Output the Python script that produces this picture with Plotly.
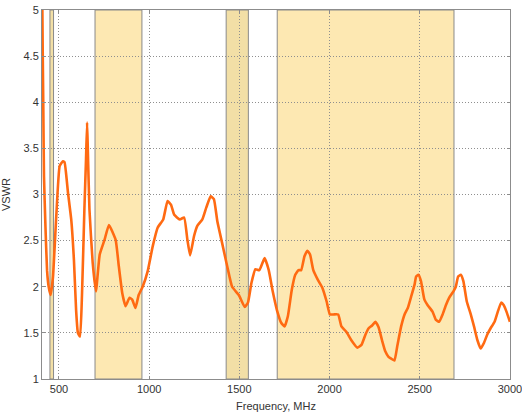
import plotly.graph_objects as go

freq_mhz = [408, 410, 413, 417, 425, 434, 443, 454, 467, 485, 504, 522, 531, 550, 568, 583, 595,
            605, 617, 628, 641, 650, 656, 660, 669, 687, 705, 726, 753, 777, 814, 832, 851, 869,
            891, 906, 924, 942, 964, 992, 1020, 1047, 1078, 1102, 1121, 1139, 1170, 1194, 1212,
            1227, 1249, 1267, 1295, 1317, 1341, 1359, 1378, 1405, 1433, 1460, 1497, 1530, 1548,
            1567, 1589, 1611, 1640, 1663, 1685, 1708, 1732, 1751, 1769, 1791, 1810, 1828, 1843,
            1861, 1877, 1892, 1910, 1934, 1960, 1984, 2002, 2021, 2048, 2066, 2094, 2121, 2154,
            2177, 2199, 2217, 2236, 2254, 2272, 2291, 2309, 2327, 2342, 2360, 2375, 2397, 2416,
            2434, 2452, 2471, 2480, 2493, 2507, 2526, 2544, 2571, 2590, 2608, 2627, 2645, 2663,
            2687, 2700, 2713, 2728, 2742, 2761, 2783, 2801, 2820, 2838, 2856, 2874, 2893, 2915,
            2933, 2952, 2966, 2981, 3000]
vswr = [5.0, 4.55, 4.0, 3.2, 2.66, 2.18, 2.0, 1.91, 2.11, 2.76, 3.31, 3.36, 3.35, 3.02, 2.73, 2.29,
        1.75, 1.5, 1.46, 1.93, 2.84, 3.38, 3.78, 3.49, 2.84, 2.26, 1.95, 2.35, 2.51, 2.67, 2.51,
        2.22, 1.93, 1.79, 1.88, 1.86, 1.77, 1.91, 2.0, 2.17, 2.44, 2.64, 2.73, 2.93, 2.89, 2.78,
        2.73, 2.75, 2.51, 2.34, 2.55, 2.66, 2.73, 2.86, 2.98, 2.95, 2.71, 2.47, 2.22, 2.0, 1.91,
        1.78, 1.83, 2.04, 2.19, 2.18, 2.31, 2.18, 1.95, 1.75, 1.61, 1.57, 1.68, 1.97, 2.13, 2.18,
        2.18, 2.33, 2.39, 2.35, 2.18, 2.08, 1.99, 1.84, 1.70, 1.70, 1.70, 1.57, 1.51, 1.42, 1.34,
        1.37, 1.48, 1.55, 1.58, 1.62, 1.56, 1.42, 1.30, 1.24, 1.22, 1.20, 1.35, 1.57, 1.70, 1.77,
        1.89, 2.02, 2.11, 2.13, 2.06, 1.86, 1.80, 1.73, 1.64, 1.62, 1.70, 1.80, 1.88, 1.95, 2.0,
        2.11, 2.13, 2.06, 1.84, 1.70, 1.57, 1.42, 1.33, 1.39, 1.48, 1.55, 1.62, 1.73, 1.83, 1.80,
        1.73, 1.62]

band_start = [450, 700, 1427, 1710]
band_end = [470, 960, 1550, 2690]
band_fill = ["#f2dfa6", "#fde8b2", "#f2dfa6", "#fde8b2"]

x_ticks = [500, 1000, 1500, 2000, 2500, 3000]
y_ticks = [1, 1.5, 2, 2.5, 3, 3.5, 4, 4.5, 5]

fig = go.Figure()

shapes = []
for s, e, c in zip(band_start, band_end, band_fill):
    shapes.append(dict(type="rect", xref="x", yref="y", x0=s, x1=e, y0=1, y1=5,
                       fillcolor=c, line=dict(color="#8a8a8a", width=1), layer="below"))

fig.add_trace(go.Scatter(x=freq_mhz, y=vswr, mode="lines",
                         line=dict(color="#ff6a12", width=2.6, shape="spline", smoothing=0.4),
                         showlegend=False, hoverinfo="x+y", cliponaxis=True))

axis_common = dict(showline=True, linecolor="#8c8c8c", linewidth=1, mirror="ticks",
                   ticks="inside", ticklen=3, tickcolor="#8c8c8c", automargin=False,
                   ticklabeloverflow="allow",
                   showgrid=True, gridcolor="#8f8f8f", griddash="1px,2px", gridwidth=1,
                   zeroline=False, tickfont=dict(family="Liberation Sans, Arial", size=11, color="#333333"),
                   title_font=dict(family="Liberation Sans, Arial", size=11, color="#333333"))

fig.update_xaxes(range=[406, 3000.5], tickvals=x_ticks, ticktext=[str(v) for v in x_ticks],
                 title_text="Frequency, MHz", **axis_common)
fig.update_yaxes(range=[1, 5], tickvals=y_ticks, ticktext=[f"{v:g}" for v in y_ticks],
                 title_text="VSWR", **axis_common)

fig.update_layout(width=522, height=412, margin=dict(l=42, r=12, t=10, b=33),
                  plot_bgcolor="white", paper_bgcolor="white", shapes=shapes)

fig.write_html("out.html", config={"displayModeBar": False},
               post_script="document.body.style.margin='0';document.body.style.overflow='hidden';")
